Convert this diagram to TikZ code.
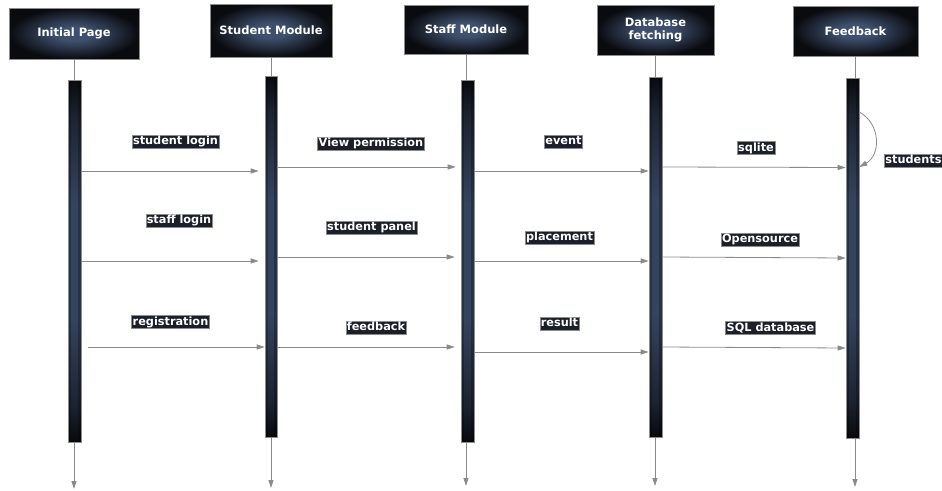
\documentclass[tikz,border=0pt]{standalone}
\usepackage{fontspec}
\setmainfont{DejaVu Sans}
\usetikzlibrary{arrows.meta}
\definecolor{hdrin}{RGB}{62,80,110}
\definecolor{hdrout}{RGB}{10,11,15}
\definecolor{bartop}{RGB}{9,10,13}
\definecolor{barmid}{RGB}{52,67,94}
\definecolor{barbot}{RGB}{8,9,12}
\definecolor{lblbg}{RGB}{26,31,42}
\definecolor{linec}{RGB}{138,138,138}
\definecolor{edgec}{RGB}{140,140,140}
\pgfdeclareverticalshading{barshade}{100bp}{color(0bp)=(barbot); color(25bp)=(barbot); color(30bp)=(barbot!55!barmid); color(42bp)=(barmid); color(58bp)=(barmid); color(70bp)=(bartop!55!barmid); color(75bp)=(bartop); color(100bp)=(bartop)}
\pgfdeclareradialshading{hdrshade}{\pgfpoint{0bp}{0bp}}{color(0bp)=(hdrin); color(7bp)=(hdrin); color(17bp)=(hdrin!45!hdrout); color(25bp)=(hdrout); color(50bp)=(hdrout)}
\tikzset{
  hdr/.style={draw=edgec, line width=0.8pt, shading=hdrshade,
    text=white, font=\bfseries\fontsize{11.5}{13.5}\selectfont, align=center, inner sep=0pt},
  actbar/.style={draw=edgec, line width=0.6pt, shading=barshade, minimum width=13pt, inner sep=0pt,
    path picture={
      \fill[black, opacity=0.25] (path picture bounding box.south west) rectangle ([xshift=3pt]path picture bounding box.north west);
      \fill[black, opacity=0.25] (path picture bounding box.south east) rectangle ([xshift=-3pt]path picture bounding box.north east);}},
  lbl/.style={draw=edgec, line width=0.5pt, fill=lblbg, text=white, inner sep=1pt,
    font=\bfseries\fontsize{11.3}{13}\selectfont, text height=8.5pt, text depth=2.5pt},
  msg/.style={draw=linec, line width=0.8pt, -{Triangle[length=8pt,width=5pt]}},
  life/.style={draw=linec, line width=0.8pt}
}
\begin{document}
\begin{tikzpicture}[x=1pt,y=-1pt]
\useasboundingbox (0,0) rectangle (942,490);
% headers
\node[hdr, minimum width=130pt, minimum height=51pt] (ip) at (74,33.5) {Initial Page};
\node[hdr, minimum width=122pt, minimum height=53pt] (sm) at (271,30.5) {Student Module};
\node[hdr, minimum width=124pt, minimum height=49pt] (st) at (466,29.5) {Staff Module};
\node[hdr, minimum width=117pt, minimum height=50pt] (db) at (655.5,30) {Database\\fetching};
\node[hdr, minimum width=125pt, minimum height=50pt] (fb) at (855.5,31) {Feedback};
% activation bars
\node[actbar, minimum height=362pt] (ib) at (74.5,261) {};
\node[actbar, minimum width=12pt, minimum height=361pt] (sb) at (271,256.5) {};
\node[actbar, minimum height=362pt] (tb) at (467.5,261) {};
\node[actbar, minimum height=360pt] (dbb) at (655.5,257) {};
\node[actbar, minimum height=360pt] (fbb) at (852.5,258) {};
% lifelines
\draw[life] (ip.south) -- (ip.south |- ib.north);
\draw[life] (sm.south) -- (sm.south |- sb.north);
\draw[life] (st.south) -- (st.south |- tb.north);
\draw[life] (db.south) -- (db.south |- dbb.north);
\draw[life] (fb.south) -- (fb.south |- fbb.north);
\coordinate (e1) at (74,489);
\coordinate (e2) at (271,488);
\coordinate (e3) at (466,486);
\coordinate (e4) at (655,486);
\coordinate (e5) at (855,487);
\draw[msg] (e1 |- ib.south) -- (e1);
\draw[msg] (e2 |- sb.south) -- (e2);
\draw[msg] (e3 |- tb.south) -- (e3);
\draw[msg] (e4 |- dbb.south) -- (e4);
\draw[msg] (e5 |- fbb.south) -- (e5);
% messages Initial -> Student
\draw[msg, shorten >=6pt] (ib.east |- 0,171) -- (sb.west |- 0,171);
\draw[msg, shorten >=6pt] (ib.east |- 0,261) -- (sb.west |- 0,261);
\draw[msg, shorten <=7pt] (ib.east |- 0,347) -- (sb.west |- 0,347);
\node[lbl] (l1) at (175.5,141.5) {student login};
\node[lbl] (l2) at (179,220.5) {staff login};
\node[lbl] (l3) at (170.5,322) {registration};
% Student -> Staff
\draw[msg, shorten >=5pt] (sb.east |- 0,167) -- (tb.west |- 0,167);
\draw[msg, shorten >=6pt] (sb.east |- 0,257) -- (tb.west |- 0,257);
\draw[msg, shorten >=6pt] (sb.east |- 0,347) -- (tb.west |- 0,347);
\node[lbl] (l4) at (371,143.5) {View permission};
\node[lbl] (l5) at (371.5,227.5) {student panel};
\node[lbl] (l6) at (376,327.5) {feedback};
% Staff -> Database
\draw[msg] (tb.east |- 0,171) -- (dbb.west |- 0,171);
\draw[msg] (tb.east |- 0,261) -- (dbb.west |- 0,261);
\draw[msg] (tb.east |- 0,352) -- (dbb.west |- 0,352);
\node[lbl] (l7) at (563.5,141.5) {event};
\node[lbl] (l8) at (559.5,237.5) {placement};
\node[lbl] (l9) at (559.5,323.5) {result};
% Database -> Feedback
\draw[msg] (dbb.east |- 0,167) -- (fbb.west |- 0,167.5);
\draw[msg] (dbb.east |- 0,257) -- (fbb.west |- 0,258);
\draw[msg] (dbb.east |- 0,347) -- (fbb.west |- 0,348);
\node[lbl] (l10) at (756,148) {sqlite};
\node[lbl] (l11) at (760,239.5) {Opensource};
\node[lbl] (l12) at (770.5,328) {SQL database};
% self message
\draw[msg] (fbb.east |- 0,112) .. controls (881,124) and (881,155) .. (fbb.east |- 0,167);
\node[lbl] (l13) at (913.5,160.5) {students};
\end{tikzpicture}
\end{document}
